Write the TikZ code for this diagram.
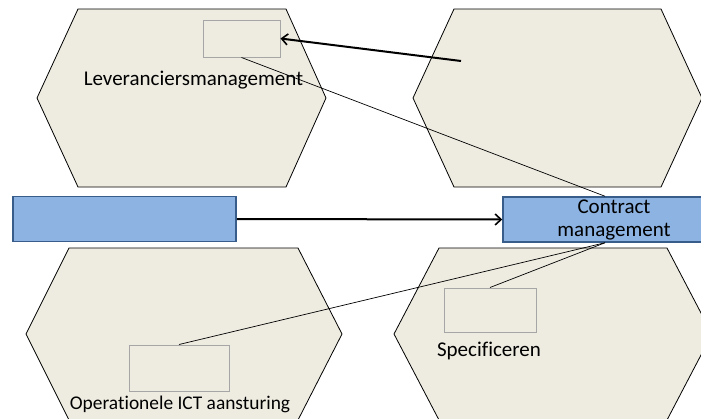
\documentclass[tikz,border=0pt]{standalone}
\usepackage{fontspec}
\setmainfont{Carlito}[Ligatures={NoCommon}]
\usetikzlibrary{arrows.meta}
\definecolor{hexfill}{HTML}{EEECE1}
\definecolor{bluefill}{HTML}{8DB3E2}
\definecolor{blueedge}{HTML}{385D8A}
\definecolor{boxedge}{HTML}{A6A6A6}
\begin{document}
\begin{tikzpicture}[x=1pt,y=-1pt,
  hexa/.style={draw=black, line width=0.8pt, fill=hexfill, line join=miter},
  smallbox/.style={draw=boxedge, line width=1pt, fill=hexfill, inner sep=0pt},
  bluebox/.style={draw=blueedge, line width=1.5pt, fill=bluefill, inner sep=0pt,
    minimum height=45pt},
  lbl/.style={font=\fontsize{21}{24}\selectfont, inner sep=0pt, anchor=base},
  smalllbl/.style={lbl, font=\fontsize{19.4}{23}\selectfont},
  link/.style={line width=0.7pt},
  flow/.style={line width=2pt, -{Straight Barb[length=6pt,width=11pt,line width=1.6pt]}}]
\useasboundingbox (0,0) rectangle (701,418);
\clip (0,0) rectangle (701,418);

% four hexagonal areas
\draw[hexa] (78,9) -- (286,9) -- (326,98) -- (286,187) -- (78,187) -- (37,98) -- cycle;
\draw[hexa] (454,9) -- (661,9) -- (702,98) -- (661,187) -- (454,187) -- (413,98) -- cycle;
\draw[hexa] (69,248) -- (298,248) -- (342,334) -- (298,420) -- (69,420) -- (26,334) -- cycle;
\draw[hexa] (439,248) -- (667,248) -- (712,334) -- (667,420) -- (439,420) -- (394,334) -- cycle;

% small boxes inside the areas
\node[smallbox, minimum width=77pt, minimum height=37pt] (lev) at (241.5,38.5) {};
\node[smallbox, minimum width=100pt, minimum height=46pt] (ops) at (179,368) {};
\node[smallbox, minimum width=92pt, minimum height=44pt] (spec) at (490,310) {};

% area labels
\node[lbl] (levlbl) at (193.5,85) {Leveranciersmanagement};
\node[smalllbl] (opslbl) at (180,409) {Operationele ICT aansturing};
\node[lbl] (speclbl) at (489,356) {Specificeren};

% blue process bars
\node[bluebox, minimum width=223pt] (src) at (124.5,219) {};
\node[bluebox, minimum width=222pt, align=center,
  font=\fontsize{21}{23}\selectfont] (cm) at (614,219.5) {Contract\\management};

% connectors
\coordinate (start) at (461,61);
\draw[link] (lev.south) -- ([xshift=-9pt]cm.north);
\draw[link] (ops.north) -- ([xshift=-9pt]cm.south);
\draw[link] (spec.north) -- ([xshift=-9pt]cm.south);
\draw[flow] (start) -- (lev.east);
\draw[flow] (src.east) -- (cm.west);
\end{tikzpicture}
\end{document}
